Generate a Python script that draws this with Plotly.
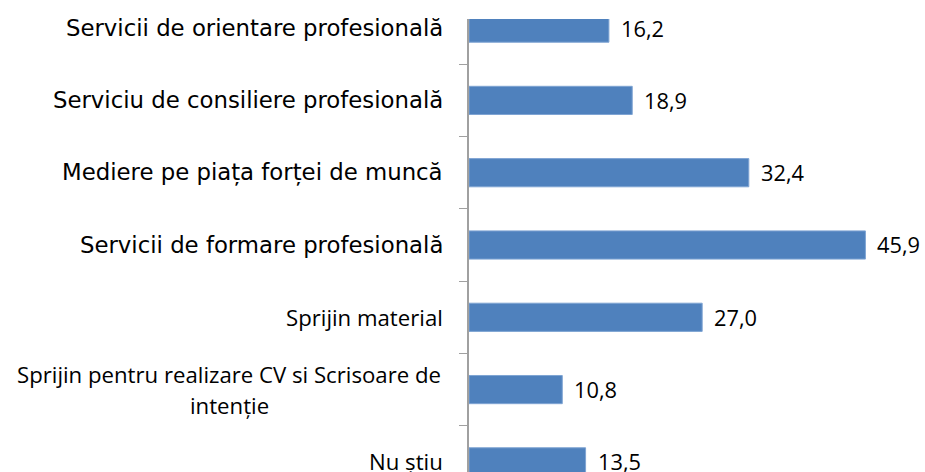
import plotly.graph_objects as go

categories = [
    "Servicii de orientare profesională",
    "Serviciu de consiliere profesională",
    "Mediere pe piața forței de muncă",
    "Servicii de formare profesională",
    "Sprijin material",
    "Sprijin pentru realizare CV si Scrisoare de<br>intenție",
    "Nu știu",
]
values = [16.2, 18.9, 32.4, 45.9, 27.0, 10.8, 13.5]
value_labels = ["16,2", "18,9", "32,4", "45,9", "27,0", "10,8", "13,5"]
large_label = [True, True, True, True, False, False, False]

fig = go.Figure()
fig.add_trace(go.Bar(
    x=values,
    y=categories,
    orientation="h",
    width=0.39,
    marker=dict(color="#4F81BD", line=dict(color="#7FA4D3", width=1)),
    hoverinfo="skip",
))

annotations = []
for cat, big in zip(categories, large_label):
    lines = cat.split("<br>")
    n = len(lines)
    for i, line in enumerate(lines):
        shift = (n - 1) / 2 * 31 - i * 31
        annotations.append(dict(
            x=0, xref="paper", y=cat, yref="y",
            text=line, showarrow=False,
            xanchor="right" if n == 1 else "center",
            xshift=-24 if n == 1 else -(24 + 216),
            yshift=shift,
            font=dict(family="DejaVu Sans" if big else "Open Sans",
                      size=22.8 if big else 22.2, color="#000000"),
        ))

for cat, v, lab in zip(categories, values, value_labels):
    annotations.append(dict(
        x=v, xref="x", y=cat, yref="y",
        text=lab, showarrow=False, xanchor="left", xshift=10,
        font=dict(family="Open Sans", size=21.8, color="#000000"),
    ))

fig.update_layout(
    width=925, height=472,
    margin=dict(l=469, r=0, t=19, b=0),
    paper_bgcolor="white", plot_bgcolor="white",
    showlegend=False,
    hovermode=False,
    annotations=annotations,
    xaxis=dict(visible=False, range=[0, 52.8], fixedrange=True),
    yaxis=dict(
        type="category",
        categoryorder="array", categoryarray=categories,
        range=[6.14, -0.126],
        fixedrange=True,
        showticklabels=False,
        showline=True, linecolor="#A0A0A0", linewidth=1.5,
        ticks="outside", ticklen=8, tickcolor="#A0A0A0", tickwidth=1,
        tickson="boundaries",
        showgrid=False, zeroline=False,
        automargin=False,
    ),
)

fig.write_html(
    "out.html",
    config={"displayModeBar": False},
    post_script="document.body.style.margin='0';document.body.style.overflow='hidden';",
)
